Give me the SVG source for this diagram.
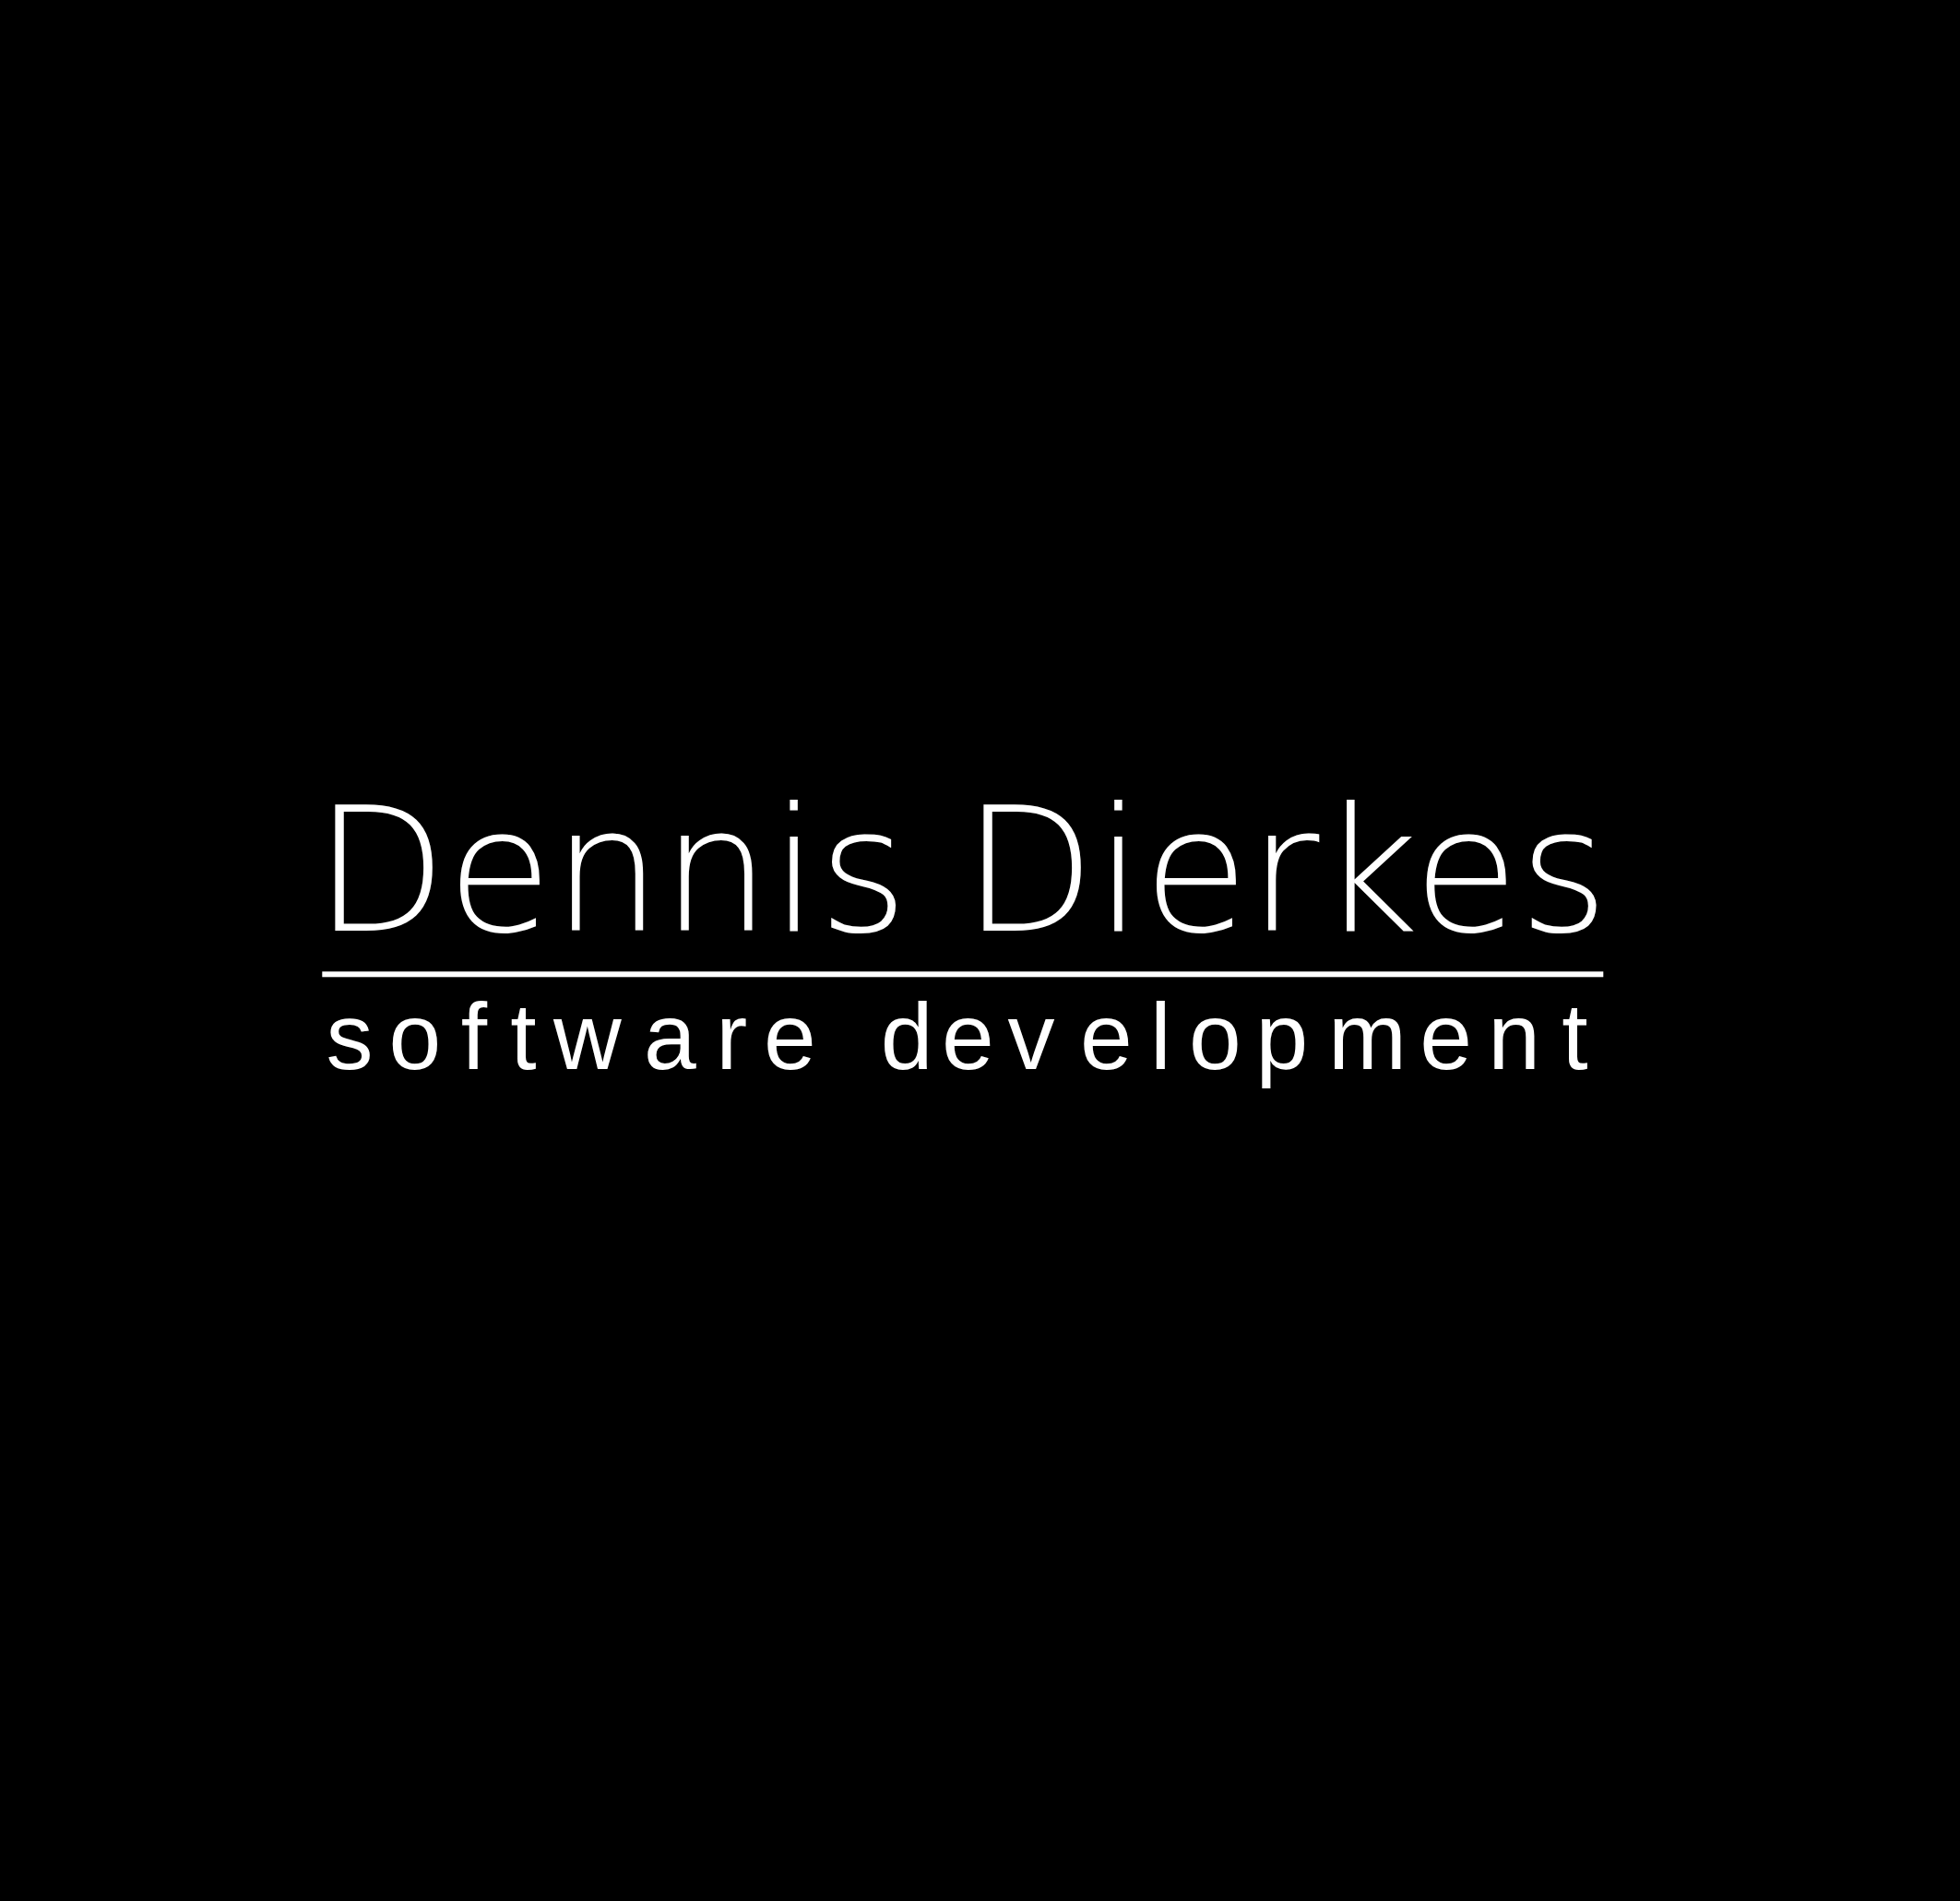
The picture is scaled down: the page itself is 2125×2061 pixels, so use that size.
<svg xmlns="http://www.w3.org/2000/svg" width="2125" height="2061" viewBox="0 0 2125 2061">
<style>
.title{font-family:"DejaVu Sans ExtraLight","DejaVu Sans",sans-serif;font-weight:200;font-size:186.5px;fill:#ffffff}
.sub{font-family:"Liberation Sans",Arial,sans-serif;font-size:102px;fill:#ffffff}
</style>
<rect id="background" x="0" y="0" width="2125" height="2061" fill="#000000"/>
<g id="title">
<text class="title" x="340.7" y="1009">Dennis Dierkes</text>
</g>
<g id="rule">
<rect x="349.3" y="1053.3" width="1389" height="6" fill="#ffffff"/>
</g>
<g id="subtitle">
<text class="sub" y="1159" x="353.5 421.5 499.8 553.3 600 698 776.3 828 900 954.8 1021 1092.5 1171 1247 1289 1361.6 1440 1539.3 1613.3 1693.3">software development</text>
</g>
</svg>
